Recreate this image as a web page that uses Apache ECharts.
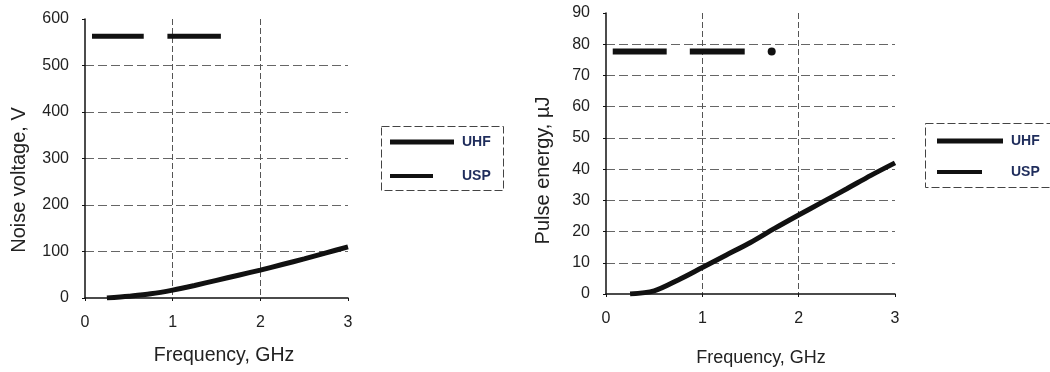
<!DOCTYPE html>
<html>
<head>
<meta charset="utf-8">
<script src="https://cdn.jsdelivr.net/npm/echarts@6/dist/echarts.min.js"></script>
<style>
  html, body { margin: 0; padding: 0; background: #fff; }
  #chart { width: 1050px; height: 372px; }
</style>
</head>
<body>
<div id="chart"></div>
<script>
// values; '-' marks a gap in the line
const freqTicks = [0, 1, 2, 3];
const noiseUhf = [[0.08, 563], [0.67, 563], [0.8, '-'], [0.94, 563], [1.55, 563]];
const noiseUsp = [[0.25, 0], [0.5, 4], [0.75, 9], [1, 17], [1.25, 27], [1.5, 38], [1.75, 49], [2, 60], [2.25, 72], [2.5, 84], [2.75, 97], [3, 110]];
const energyUhf = [[0.07, 77.7], [0.63, 77.7], [0.75, '-'], [0.87, 77.7], [1.44, 77.7], [1.6, '-'], [1.72, 77.7], [1.85, '-']];
const energyUsp = [[0.25, 0], [0.5, 1], [0.75, 4.5], [1, 8.5], [1.25, 12.5], [1.5, 16.5], [1.75, 21], [2, 25.3], [2.25, 29.5], [2.5, 33.7], [2.75, 38], [3, 42]];

const ink = '#111';
const textCol = '#222';
const legendCol = '#1f2d5c';

// a point with gaps on both sides would be invisible, so give it a dot
const withDots = (data, size) => data.map((d, i) => {
  const gap = p => !p || p[1] === '-';
  if (d[1] !== '-' && gap(data[i - 1]) && gap(data[i + 1])) {
    return { value: d, symbol: 'circle', symbolSize: size };
  }
  return d;
});

const grid = (left, top, width, height) => ({ left, top, width, height });

const xAxis = (gridIndex, nameGap, padLeft, nameSize) => ({
  type: 'value', gridIndex, min: 0, max: 3, interval: 1,
  name: 'Frequency, GHz', nameLocation: 'middle', nameGap,
  nameTextStyle: { fontFamily: 'Liberation Sans', fontSize: nameSize, color: textCol, padding: [0, 0, 0, padLeft] },
  axisLine: { show: true, lineStyle: { color: ink, width: 1.5 } },
  axisTick: { show: true, length: 3, lineStyle: { color: ink } },
  axisLabel: { fontFamily: 'Liberation Sans', fontSize: 16, color: textCol, margin: 17,
    formatter: v => freqTicks.includes(v) ? String(v) : '' },
  splitLine: { show: true, showMinLine: false, showMaxLine: false,
    lineStyle: { color: '#555', type: [6, 3], width: 1 } }
});

const yAxis = (gridIndex, max, interval, name, nameGap, padRight) => ({
  type: 'value', gridIndex, min: 0, max, interval,
  name, nameLocation: 'middle', nameGap,
  nameTextStyle: { fontFamily: 'Liberation Sans', fontSize: 20, color: textCol, padding: [0, padRight, 0, 0] },
  axisLine: { show: true, lineStyle: { color: ink, width: 1.5 } },
  axisTick: { show: true, length: 3, lineStyle: { color: ink } },
  axisLabel: { fontFamily: 'Liberation Sans', fontSize: 16, color: textCol, margin: 16 },
  splitLine: { show: true, showMinLine: false, showMaxLine: false,
    lineStyle: { color: '#666', type: [9, 4], width: 1 } }
});

const legend = (name, left, top, width, height, textPad) => ({
  data: [name], left, top, padding: 0, orient: 'horizontal',
  icon: 'rect', itemWidth: width, itemHeight: height,
  selectedMode: false,
  itemStyle: { color: ink },
  textStyle: { fontFamily: 'Liberation Sans', fontWeight: 'bold', fontSize: 14, color: legendCol, padding: [0, 0, 0, textPad] }
});

const option = {
  animation: false,
  backgroundColor: '#fff',
  grid: [grid(85, 19, 263, 279), grid(606, 13, 289, 284)],
  xAxis: [xAxis(0, 48, 15, 19.5), xAxis(1, 55, 21, 18)],
  yAxis: [
    yAxis(0, 600, 100, 'Noise voltage, V', 56, 43),
    yAxis(1, 90, 10, 'Pulse energy, \u00b5J', 53, 34)
  ],
  legend: [
    legend('UHF', 390, 135, 64, 5, 3),
    legend('USP', 390, 169, 43, 4, 24),
    legend('UHF', 937, 134, 66, 5, 3),
    legend('USP', 937, 165, 45, 4, 24)
  ],
  graphic: [
    { type: 'rect', shape: { x: 381.5, y: 126.5, width: 122, height: 64 },
      style: { fill: 'none', stroke: '#444', lineWidth: 1, lineDash: [8, 3] } },
    { type: 'rect', shape: { x: 925.5, y: 123.5, width: 140, height: 64 },
      style: { fill: 'none', stroke: '#444', lineWidth: 1, lineDash: [8, 3] } }
  ],
  series: [
    { name: 'UHF', type: 'line', xAxisIndex: 0, yAxisIndex: 0, data: withDots(noiseUhf, 8),
      symbol: 'none', showSymbol: true, connectNulls: false, color: ink,
      lineStyle: { color: ink, width: 5 }, itemStyle: { color: ink } },
    { name: 'USP', type: 'line', xAxisIndex: 0, yAxisIndex: 0, data: noiseUsp,
      symbol: 'none', smooth: 0.3, color: ink,
      lineStyle: { color: ink, width: 5 } },
    { name: 'UHF', type: 'line', xAxisIndex: 1, yAxisIndex: 1, data: withDots(energyUhf, 8),
      symbol: 'none', showSymbol: true, connectNulls: false, color: ink,
      lineStyle: { color: ink, width: 6 }, itemStyle: { color: ink } },
    { name: 'USP', type: 'line', xAxisIndex: 1, yAxisIndex: 1, data: energyUsp,
      symbol: 'none', smooth: 0.3, color: ink,
      lineStyle: { color: ink, width: 5 } }
  ]
};

const myChart = echarts.init(document.getElementById('chart'));
myChart.setOption(option);
</script>
</body>
</html>
